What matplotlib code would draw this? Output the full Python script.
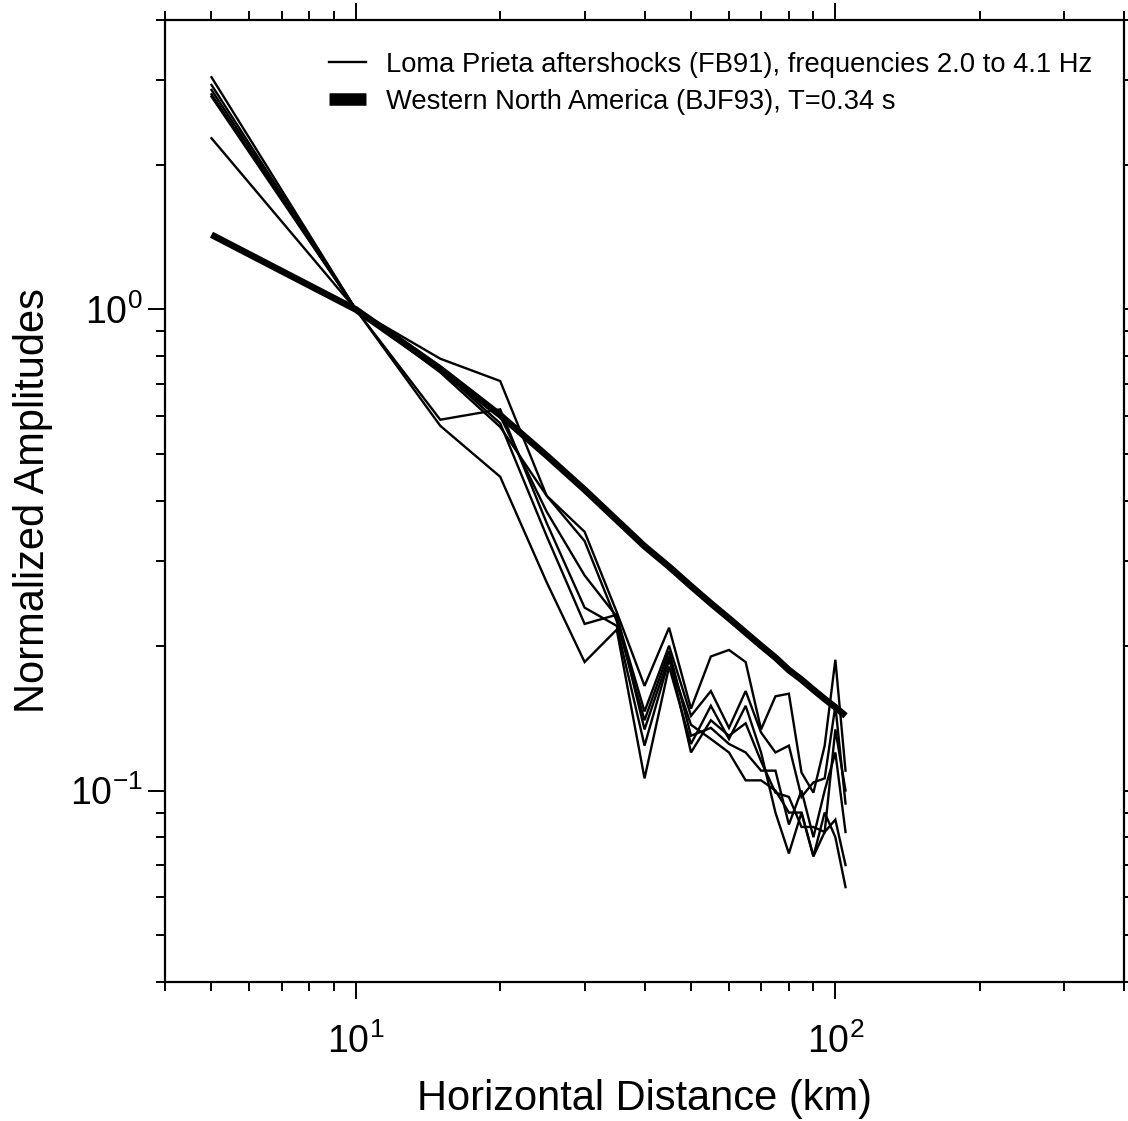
import matplotlib
matplotlib.use("Agg")
import matplotlib.pyplot as plt
import numpy as np
from matplotlib.ticker import LogLocator, FuncFormatter, NullFormatter
from matplotlib.lines import Line2D

plt.rcParams['font.family'] = ['Liberation Sans Narrow', 'Liberation Sans', 'DejaVu Sans']
plt.rcParams['mathtext.fontset'] = 'custom'
plt.rcParams['mathtext.rm'] = 'Liberation Sans'

# distances (km) shared by all curves
distance = [5, 10, 15, 20, 25, 30, 35, 40, 45, 50, 55,
            60, 65, 70, 75, 80, 85, 90, 95, 100, 105]

# Loma Prieta aftershocks (FB91), one curve per frequency
fb91_a = [3.04, 1.0, 0.79, 0.71, 0.41, 0.345, 0.235, 0.165, 0.218, 0.148, 0.19,
          0.196, 0.185, 0.134, 0.157, 0.159, 0.109, 0.099, 0.124, 0.187, 0.11]
fb91_b = [2.93, 1.0, 0.76, 0.60, 0.38, 0.28, 0.23, 0.146, 0.20, 0.143, 0.161,
          0.135, 0.161, 0.132, 0.12, 0.124, 0.097, 0.104, 0.106, 0.15, 0.094]
fb91_c = [2.86, 1.0, 0.75, 0.58, 0.338, 0.222, 0.232, 0.134, 0.19, 0.12, 0.14,
          0.13, 0.138, 0.115, 0.099, 0.097, 0.084, 0.084, 0.082, 0.134, 0.10]
fb91_d = [2.77, 1.0, 0.59, 0.62, 0.36, 0.24, 0.22, 0.124, 0.187, 0.137, 0.128,
          0.12, 0.105, 0.105, 0.10, 0.09, 0.09, 0.073, 0.082, 0.087, 0.07]
fb91_e = [2.27, 1.0, 0.573, 0.449, 0.271, 0.185, 0.216, 0.106, 0.181, 0.125, 0.15,
          0.128, 0.15, 0.12, 0.09, 0.074, 0.09, 0.073, 0.09, 0.08, 0.063]
fb91_f = [2.80, 1.0, 0.74, 0.57, 0.41, 0.33, 0.225, 0.14, 0.195, 0.13, 0.135,
          0.125, 0.12, 0.11, 0.11, 0.085, 0.10, 0.08, 0.10, 0.12, 0.082]
fb91_curves = [fb91_a, fb91_b, fb91_c, fb91_d, fb91_e, fb91_f]

# Western North America (BJF93), T=0.34 s
bjf93 = [1.43, 1.0, 0.753, 0.603, 0.497, 0.422, 0.365, 0.322, 0.292, 0.266, 0.245,
         0.228, 0.213, 0.2, 0.189, 0.178, 0.17, 0.162, 0.155, 0.149, 0.143]

label_fb91 = "Loma Prieta aftershocks (FB91), frequencies 2.0 to 4.1 Hz"
label_bjf93 = "Western North America (BJF93), T=0.34 s"

fig = plt.figure(figsize=(11.28, 11.21), dpi=100)
ax = fig.add_axes([0.1463, 0.124, 0.8502, 0.8583])

for curve in fb91_curves:
    ax.plot(distance, curve, color='black', lw=1.7, solid_joinstyle='miter')
ax.plot(distance, bjf93, color='black', lw=4.8, solid_capstyle='butt')

ax.set_xscale('log')
ax.set_yscale('log')
ax.set_xlim(4, 400)
ax.set_ylim(0.04, 4)

for sp in ax.spines.values():
    sp.set_linewidth(1.6)

pow_fmt = FuncFormatter(lambda v, p: "10$^{%d}$" % int(round(np.log10(v))))
ax.xaxis.set_major_locator(LogLocator(base=10))
ax.yaxis.set_major_locator(LogLocator(base=10))
ax.xaxis.set_minor_locator(LogLocator(base=10, subs=np.arange(2, 10)))
ax.yaxis.set_minor_locator(LogLocator(base=10, subs=np.arange(2, 10)))
ax.xaxis.set_major_formatter(pow_fmt)
ax.yaxis.set_major_formatter(pow_fmt)
ax.xaxis.set_minor_formatter(NullFormatter())
ax.yaxis.set_minor_formatter(NullFormatter())

ax.tick_params(which='both', direction='out', top=True, right=True, width=1.4)
ax.tick_params(which='major', length=12)
ax.tick_params(which='minor', length=6.5)
ax.tick_params(axis='x', which='major', labelsize=27, pad=18)
ax.tick_params(axis='y', which='major', labelsize=27, pad=4)

ax.set_xlabel("Horizontal Distance (km)", fontsize=30, labelpad=13)
ax.set_ylabel("Normalized Amplitudes", fontsize=30, labelpad=12)

handles = [Line2D([], [], color='black', lw=1.7),
           Line2D([], [], color='black', lw=9, solid_capstyle='butt')]
ax.legend(handles, [label_fb91, label_bjf93], loc='upper left',
          bbox_to_anchor=(0.16, 0.978), frameon=False, fontsize=19.7,
          handlelength=1.35, handletextpad=0.7, labelspacing=0.4,
          borderaxespad=0)

fig.savefig("out.png", dpi=100)
